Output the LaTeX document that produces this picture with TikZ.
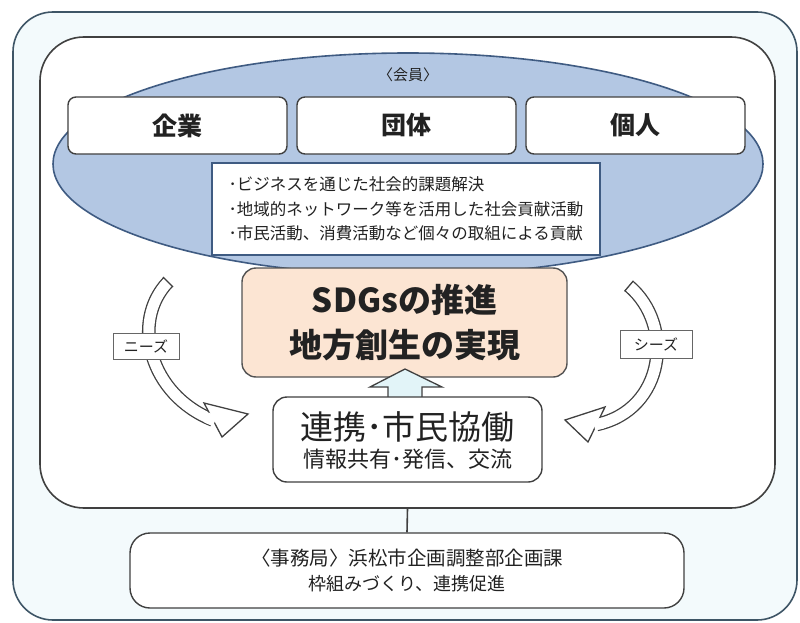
\documentclass[tikz,border=0pt]{standalone}
\usepackage{fontspec}
\setmainfont{Noto Sans CJK JP}
\usetikzlibrary{shapes.geometric}
\definecolor{framefill}{HTML}{F3FAFC}
\definecolor{framedraw}{HTML}{3E5566}
\definecolor{ellfill}{HTML}{B3C7E3}
\definecolor{elldraw}{HTML}{3F5B82}
\definecolor{linegray}{HTML}{404040}
\definecolor{peach}{HTML}{FCE5D3}
\definecolor{paleblue}{HTML}{E2F4F8}
\definecolor{txt}{HTML}{222222}
\begin{document}
\begin{tikzpicture}[x=1pt,y=-1pt,
  frame/.style={draw=#1, line width=1.6pt, inner sep=0pt},
  memberbox/.style={draw=linegray, fill=white, line width=1.4pt, rounded corners=8pt,
    minimum width=219pt, minimum height=57pt, inner sep=0pt, text=txt,
    font=\fontsize{25}{25}\selectfont\bfseries},
  plainbox/.style={draw=linegray, fill=white, line width=1.4pt, inner sep=0pt, text=txt},
  band/.style={draw=linegray, double=white, double distance=11pt, line width=1.3pt},
  headshape/.style={draw=linegray, fill=white, line width=1.3pt, line join=miter},
  tagbox/.style={draw=linegray!80, fill=white, line width=0.9pt, inner sep=0pt, text=txt,
    font=\fontsize{15}{15}\selectfont}
]
\useasboundingbox (0,0) rectangle (800,623);
\fill[white] (0,0) rectangle (800,623);

% outer and inner frames
\node[frame=framedraw, fill=framefill, rounded corners=40pt,
  minimum width=784pt, minimum height=608pt] (outer) at (405,316) {};
\node[frame=linegray, fill=white, rounded corners=44pt,
  minimum width=735pt, minimum height=471pt] (inner) at (407.5,272.5) {};

% members ellipse
\node[ellipse, draw=elldraw, fill=ellfill, line width=1.6pt, inner sep=0pt,
  minimum width=710pt, minimum height=222pt] (members) at (408,164) {};
\node[text=txt, font=\fontsize{15}{15}\selectfont] (kaiin) at (408,75) {〈会員〉};

\node[memberbox] (kigyo) at (177.5,125.5) {企業};
\node[memberbox] (dantai) at (406.5,125.5) {団体};
\node[memberbox] (kojin) at (635.5,125.5) {個人};

\node[plainbox, draw=elldraw, minimum width=388pt, minimum height=92pt,
  align=left, font=\fontsize{16.5}{24.5}\selectfont] (acts) at (406,209)
  {･ビジネスを通じた社会的課題解決\\･地域的ネットワーク等を活用した社会貢献活動\\･市民活動、消費活動など個々の取組による貢献};

% SDGs box
\node[draw=linegray!90, fill=peach, line width=1.4pt, rounded corners=14pt,
  minimum width=325pt, minimum height=109pt, inner sep=0pt, align=center, text=txt,
  font=\fontsize{33}{45}\selectfont\bfseries] (sdgs) at (404.5,322.5)
  {SDGsの推進\\地方創生の実現};

% up block arrow
\coordinate (upbl) at (388,400);
\coordinate (upbr) at (422,400);
\coordinate (uptip) at (405,369);
\draw[headshape, fill=paleblue] (upbl) -- (388,387) -- (370,387) -- (uptip)
  -- (442,387) -- (422,387) -- (upbr) -- cycle;

% cooperation box
\node[plainbox, rounded corners=14pt, minimum width=269pt, minimum height=85pt]
  (renkei) at (407.5,439.5) {};
\node[text=txt, font=\fontsize{33}{33}\selectfont] (renkeiA) at (407.5,427) {連携･市民協働};
\node[text=txt, font=\fontsize{22}{22}\selectfont] (renkeiB) at (407.5,459) {情報共有･発信、交流};

% left curved arrow (needs)
\coordinate (ltail) at (168,282);
\coordinate (lend) at (213,420);
\draw[band] (ltail) .. controls (130,322) and (150,395) .. (lend);
\draw[line width=1.3pt, draw=linegray] (163,277) -- (173,287);
\draw[headshape] (204,403) -- (248,414) -- (222,437) -- cycle;
\draw[white, line width=11pt] (206.5,417.5) -- (215,421);
\node[tagbox, minimum width=66pt, minimum height=26pt] (needs) at (146,346) {ニーズ};

% right curved arrow (seeds)
\coordinate (rtail) at (629,286);
\coordinate (rend) at (596.5,424.5);
\draw[band] (rtail) .. controls (675,325) and (665,410) .. (rend);
\draw[line width=1.3pt, draw=linegray] (624.6,291.2) -- (633.4,280.8);
\draw[headshape] (605,407) -- (565,420) -- (588,442) -- cycle;
\draw[white, line width=11pt] (603,423) -- (594,425);
\node[tagbox, minimum width=72pt, minimum height=28pt] (seeds) at (656,344) {シーズ};

% secretariat
\node[plainbox, rounded corners=20pt, minimum width=554pt, minimum height=75pt,
  align=center, font=\fontsize{18}{25}\selectfont] (office) at (407,570.5)
  {{\fontsize{19.5}{25}\selectfont 〈事務局〉浜松市企画調整部企画課}\\枠組みづくり、連携促進};
\draw[line width=1.6pt, draw=linegray] (inner.south) -- (office.north);
\end{tikzpicture}
\end{document}
